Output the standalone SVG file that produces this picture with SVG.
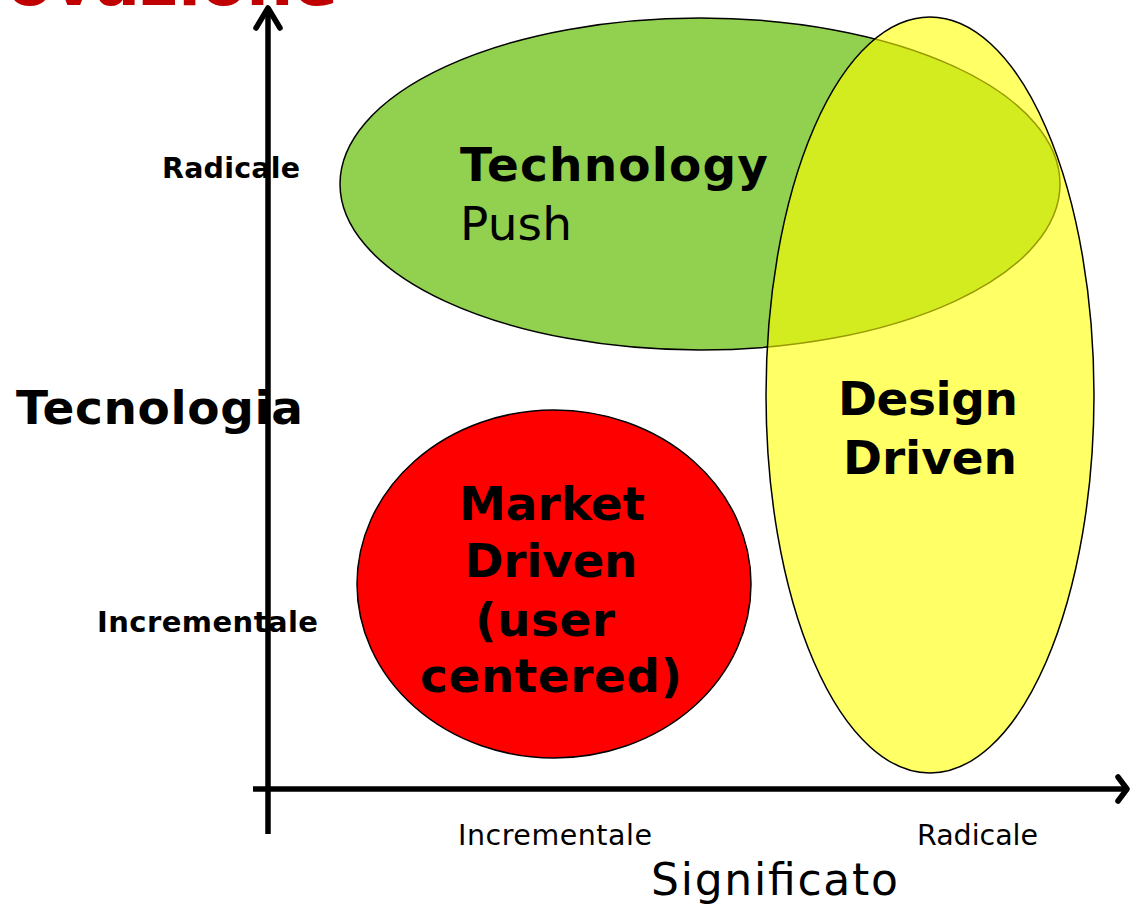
<svg xmlns="http://www.w3.org/2000/svg" width="1130" height="909" viewBox="0 0 1130 909">
<style>
.b{font-family:"DejaVu Sans","Verdana",sans-serif;font-weight:bold;fill:#000}
.r{font-family:"DejaVu Sans","Verdana",sans-serif;font-weight:normal;fill:#000}
.ax{stroke:#000;stroke-width:5.5;fill:none;stroke-linecap:round;stroke-linejoin:round}
.sh{stroke:#000;stroke-width:1.5}
</style>
<rect width="1130" height="909" fill="#fff"/>
<text class="b" x="338" y="5" font-size="66" text-anchor="end" style="fill:#C00000">ovazione</text>
<g id="connectors">
<line class="ax" x1="268" y1="834" x2="268" y2="8" style="stroke-linecap:butt"/>
<polyline class="ax" points="256,28 268,8 280,28"/>
<line class="ax" x1="253" y1="789" x2="1126" y2="789" style="stroke-linecap:butt"/>
<polyline class="ax" points="1118,777 1127,789 1118,801"/>
</g>
<g id="technology-push">
<ellipse class="sh" cx="700" cy="184" rx="360" ry="166" fill="#92D050"/>
<text class="b" x="460" y="181" font-size="47" textLength="308">Technology</text>
<text class="r" x="460" y="240" font-size="47" textLength="112">Push</text>
</g>
<g id="design-driven">
<ellipse class="sh" cx="930" cy="395" rx="164" ry="378" fill="#FFFF00" fill-opacity="0.6"/>
<text class="b" x="928" y="415" font-size="47" text-anchor="middle" textLength="180">Design</text>
<text class="b" x="930" y="474" font-size="47" text-anchor="middle" textLength="174">Driven</text>
</g>
<g id="market-driven">
<ellipse class="sh" cx="554" cy="584" rx="197" ry="174" fill="#FF0000"/>
<text class="b" x="552" y="520" font-size="47" text-anchor="middle" textLength="186">Market</text>
<text class="b" x="551" y="577" font-size="47" text-anchor="middle" textLength="173">Driven</text>
<text class="b" x="545" y="636" font-size="47" text-anchor="middle" textLength="140">(user</text>
<text class="b" x="551" y="692" font-size="47" text-anchor="middle" textLength="262">centered)</text>
</g>
<g id="labels">
<text class="b" x="162" y="178" font-size="28.5" textLength="138">Radicale</text>
<text class="b" x="97" y="632" font-size="29" textLength="221">Incrementale</text>
<text class="b" x="16" y="424" font-size="47" textLength="287">Tecnologia</text>
<text class="r" x="458" y="845" font-size="28.5" textLength="194">Incrementale</text>
<text class="r" x="917" y="845" font-size="28.5" textLength="121">Radicale</text>
<text class="r" x="651" y="895" font-size="44" textLength="247">Significato</text>
</g>
</svg>
